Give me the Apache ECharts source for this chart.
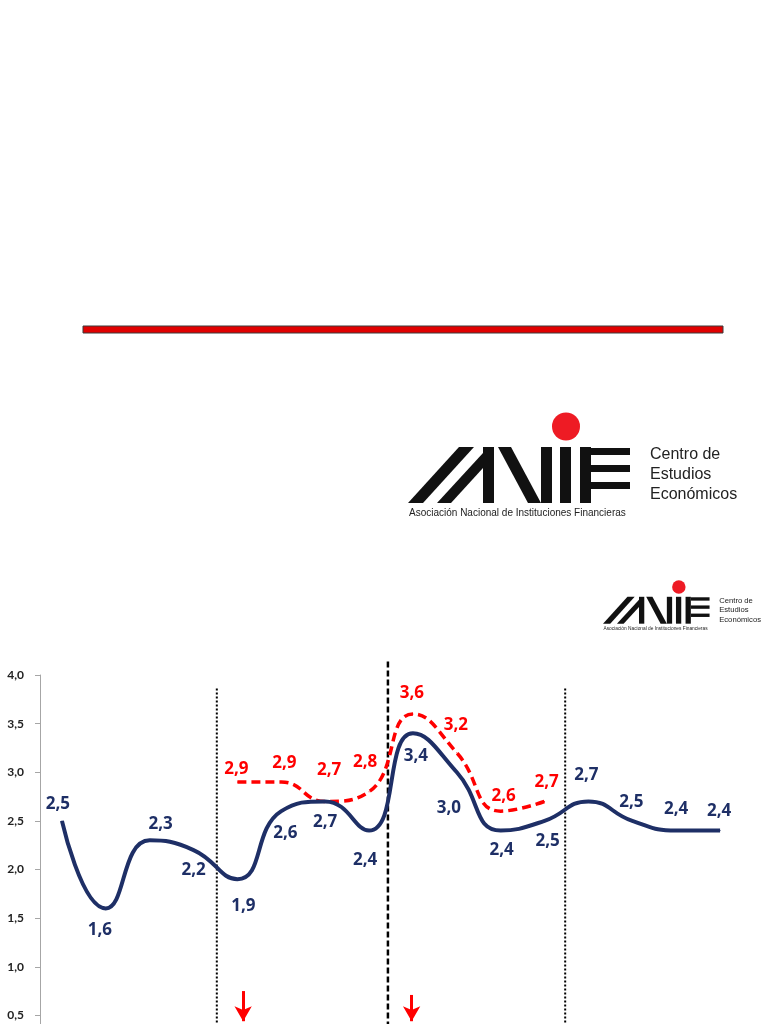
<!DOCTYPE html>
<html><head><meta charset="utf-8">
<script src="https://cdn.jsdelivr.net/npm/echarts@6/dist/echarts.min.js"></script>
<style>html,body{margin:0;padding:0;background:#fff}#c{width:768px;height:1024px}</style>
</head><body><div id="c"></div>
<script>
// ---- data ----
const categories = ['1','2','3','4','5','6','7','8','9','10','11','12','13','14','15','16'];
const actual   = [2.5, 1.6, 2.3, 2.2, 1.9, 2.6, 2.7, 2.4, 3.4, 3.0, 2.4, 2.5, 2.7, 2.5, 2.4, 2.4];
const forecast = [null, null, null, null, 2.9, 2.9, 2.7, 2.8, 3.6, 3.2, 2.6, 2.7, null, null, null, null];
const yMin = 0, yMax = 4, yStep = 0.5;
const dividerX   = [4.03, 7.93, 11.97];
const dividerTop = [3.86, 4.14, 3.86];
const dividerKind = ['dotted', 'dashed', 'dotted'];
const arrowX   = [4.63, 8.47];
const arrowTop = [0.75, 0.71];
const arrowTip = [0.44, 0.44];

// ---- label layout (pixel offsets from the point) ----
const actualLabelOffset = [[-4,-17],[-6,22],[11,-16],[0,20],[6,27],[4,22],[0,21],[-4,30],[3,23],[-8,36],[1,20],[3,20],[-2,-26],[-1,-19],[0,-21],[-1,-19]];
const forecastLabelOffset = [null,null,null,null,[-1,-13],[3,-19],[4,-31],[-4,-30],[-1,-21],[-1,-28],[3,-15],[2,-19]];

const NAVY = '#1E2F66', RED = '#FF0000';
const fmt = v => (typeof v === 'number' ? v : v.value).toFixed(1).replace('.', ',');
const labelFont = {fontFamily: 'Open Sans', fontWeight: 'bold', fontSize: 17};

const actualData = actual.map((v, i) => ({value: v, label: {offset: actualLabelOffset[i]}}));
const forecastData = forecast.map((v, i) => v === null ? '-' : ({value: v, label: {offset: forecastLabelOffset[i]}}));

function logo(x, y, s) {
  const k = '#111';
  return {
    type: 'group', x: x, y: y, scaleX: s, scaleY: s, silent: true,
    children: [
      {type: 'circle', shape: {cx: 158, cy: 14.5, r: 14}, style: {fill: '#EE1B24'}},
      {type: 'polygon', shape: {points: [[0,91],[15,91],[66,35],[51,35]]}, style: {fill: k}},
      {type: 'polygon', shape: {points: [[29,91],[43,91],[75,56],[75,41]]}, style: {fill: k}},
      {type: 'rect', shape: {x: 75, y: 35, width: 11, height: 56}, style: {fill: k}},
      {type: 'polygon', shape: {points: [[90,35],[103,35],[133,91],[120,91]]}, style: {fill: k}},
      {type: 'rect', shape: {x: 133, y: 35, width: 11, height: 56}, style: {fill: k}},
      {type: 'rect', shape: {x: 152, y: 35, width: 11, height: 56}, style: {fill: k}},
      {type: 'rect', shape: {x: 172, y: 35, width: 11, height: 56}, style: {fill: k}},
      {type: 'rect', shape: {x: 183, y: 36, width: 39, height: 7}, style: {fill: k}},
      {type: 'rect', shape: {x: 183, y: 53, width: 39, height: 7}, style: {fill: k}},
      {type: 'rect', shape: {x: 183, y: 70, width: 39, height: 7}, style: {fill: k}},
      {type: 'text', style: {text: 'Centro de', x: 242, y: 43, font: '16px "Liberation Sans"', fill: '#222', verticalAlign: 'middle'}},
      {type: 'text', style: {text: 'Estudios', x: 242, y: 63, font: '16px "Liberation Sans"', fill: '#222', verticalAlign: 'middle'}},
      {type: 'text', style: {text: 'Económicos', x: 242, y: 83, font: '16px "Liberation Sans"', fill: '#222', verticalAlign: 'middle'}},
      {type: 'text', style: {text: 'Asociación Nacional de Instituciones Financieras', x: 1, y: 101, font: '10px "Liberation Sans Narrow", "Liberation Sans"', fill: '#222', verticalAlign: 'middle'}}
    ]
  };
}

const dividerSeries = dividerX.map((x, i) => ({
  type: 'line', xAxisIndex: 1, yAxisIndex: 0, clip: false, silent: true, z: 1,
  data: [[x, dividerTop[i]], [x, yMin]], symbol: 'none',
  lineStyle: dividerKind[i] === 'dotted'
    ? {color: '#000', width: 2, type: [2, 2]}
    : {color: '#000', width: 2.5, type: [6, 3]}
}));
dividerSeries[0].markLine = {
  silent: true, symbol: ['none', 'arrow'], symbolSize: [13, 15],
  label: {show: false},
  lineStyle: {color: RED, width: 3, type: 'solid'},
  data: arrowX.map((x, i) => [{coord: [x, arrowTop[i]]}, {coord: [x, arrowTip[i]]}])
};

const chart = echarts.init(document.getElementById('c'), null, {renderer: 'canvas'});
chart.setOption({
  animation: false,
  backgroundColor: '#fff',
  graphic: [
    {type: 'rect', shape: {x: 83, y: 326, width: 640, height: 7}, style: {fill: '#E00000', stroke: '#3a3a3a', lineWidth: 1}},
    logo(408, 412, 1),
    logo(603, 580, 0.48)
  ],
  grid: {left: 40, top: 675, width: 702, height: 389, outerBoundsMode: 'none', containLabel: false},
  xAxis: [
    {type: 'category', data: categories, boundaryGap: true, show: false},
    {type: 'value', min: 0, max: categories.length, show: false}
  ],
  yAxis: {
    type: 'value', min: yMin, max: yMax, interval: yStep,
    axisLine: {show: true, lineStyle: {color: '#A6A6A6', width: 1}},
    axisTick: {show: true, length: 5, lineStyle: {color: '#A6A6A6'}},
    splitLine: {show: false},
    axisLabel: {formatter: v => v.toFixed(1).replace('.', ','), fontFamily: 'Lato', fontWeight: 'bold', fontSize: 12, color: '#222', margin: 16}
  },
  series: [
    ...dividerSeries,
    {
      name: 'forecast', type: 'line', data: forecastData, smooth: 0.5, connectNulls: false,
      symbol: 'circle', symbolSize: 1, itemStyle: {color: RED}, z: 3,
      lineStyle: {color: RED, width: 3.5, type: [9, 5]},
      label: Object.assign({show: true, position: 'inside', color: RED, formatter: p => fmt(p.value)}, labelFont)
    },
    {
      name: 'actual', type: 'line', data: actualData, smooth: 0.5,
      symbol: 'circle', symbolSize: 1, itemStyle: {color: NAVY}, z: 4,
      lineStyle: {color: NAVY, width: 4},
      label: Object.assign({show: true, position: 'inside', color: NAVY, formatter: p => fmt(p.value)}, labelFont)
    }
  ]
});
</script></body></html>
